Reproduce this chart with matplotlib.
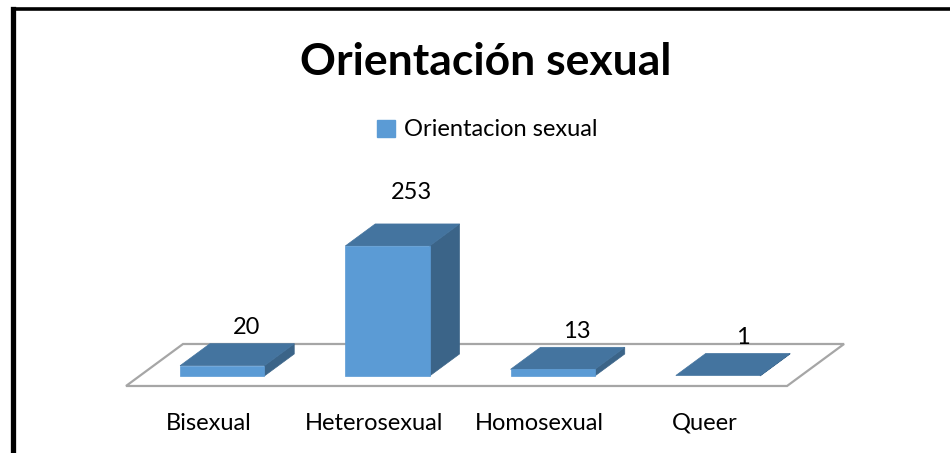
import matplotlib.pyplot as plt
from matplotlib.patches import Polygon, Patch
from matplotlib.lines import Line2D

categories = ['Bisexual', 'Heterosexual', 'Homosexual', 'Queer']
values = [20, 253, 13, 1]
series_name = 'Orientacion sexual'
title = 'Orientación sexual'

plt.rcParams['font.family'] = ['Lato', 'DejaVu Sans']

front_c = '#5B9BD5'
top_c = '#44749F'
side_c = '#3B6488'

fig = plt.figure(figsize=(9.5, 4.53), dpi=100)
ax = fig.add_axes([0, 0, 1, 1])
ax.set_xlim(-1.2625, 4.486)
ax.set_ylim(-130.4, 751)
ax.axis('off')

# fake 3d: depth pushes right and up
ddx, ddy = 0.345, 81.7
d0, d1 = 0.238, 0.762
w = 0.51


def proj(x, v, d):
    return (x + ddx * d, v + ddy * d)


# floor
n = len(categories)
floor = [proj(-0.5, 0, 0), proj(n - 0.5, 0, 0), proj(n - 0.5, 0, 1), proj(-0.5, 0, 1)]
ax.add_patch(Polygon(floor, closed=True, facecolor='white', edgecolor='#A6A6A6', lw=1.6, zorder=1))

for i, v in enumerate(values):
    x0, x1 = i - w / 2, i + w / 2
    side = [proj(x1, 0, d0), proj(x1, 0, d1), proj(x1, v, d1), proj(x1, v, d0)]
    top = [proj(x0, v, d0), proj(x1, v, d0), proj(x1, v, d1), proj(x0, v, d1)]
    front = [proj(x0, 0, d0), proj(x1, 0, d0), proj(x1, v, d0), proj(x0, v, d0)]
    ax.add_patch(Polygon(side, closed=True, facecolor=side_c, edgecolor=side_c, lw=0.5, zorder=2))
    ax.add_patch(Polygon(top, closed=True, facecolor=top_c, edgecolor=top_c, lw=0.5, zorder=2))
    if v > 1:
        ax.add_patch(Polygon(front, closed=True, facecolor=front_c, edgecolor=front_c, lw=0.5, zorder=3))
    # data label
    lx = i + 0.23
    ly = v + ddy * d1 + 30 + 0.12 * v
    ax.text(lx, ly, str(v), ha='center', va='center', fontsize=17, color='black')
    # category label
    ax.text(i, -85.6, categories[i], ha='center', va='baseline', fontsize=17, color='black')

fig.text(486 / 950, 1 - 75 / 453, title, ha='center', va='baseline',
         fontsize=32, fontweight='bold', color='black')

ax.legend(handles=[Patch(facecolor=front_c, edgecolor=front_c, label=series_name)],
          loc='center', bbox_to_anchor=(487.5 / 950, 1 - 130 / 453), frameon=False,
          fontsize=17, handlelength=0.75, handleheight=0.75, handletextpad=0.4)

# chart border (only left and top visible)
fig.add_artist(Line2D([12.5 / 950, 12.5 / 950], [0, 1 - 8.5 / 453],
                      transform=fig.transFigure, color='black', lw=3.8, solid_capstyle='projecting'))
fig.add_artist(Line2D([12.5 / 950, 1], [1 - 8.5 / 453, 1 - 8.5 / 453],
                      transform=fig.transFigure, color='black', lw=2.6, solid_capstyle='projecting'))

fig.savefig('out.png', dpi=100)
